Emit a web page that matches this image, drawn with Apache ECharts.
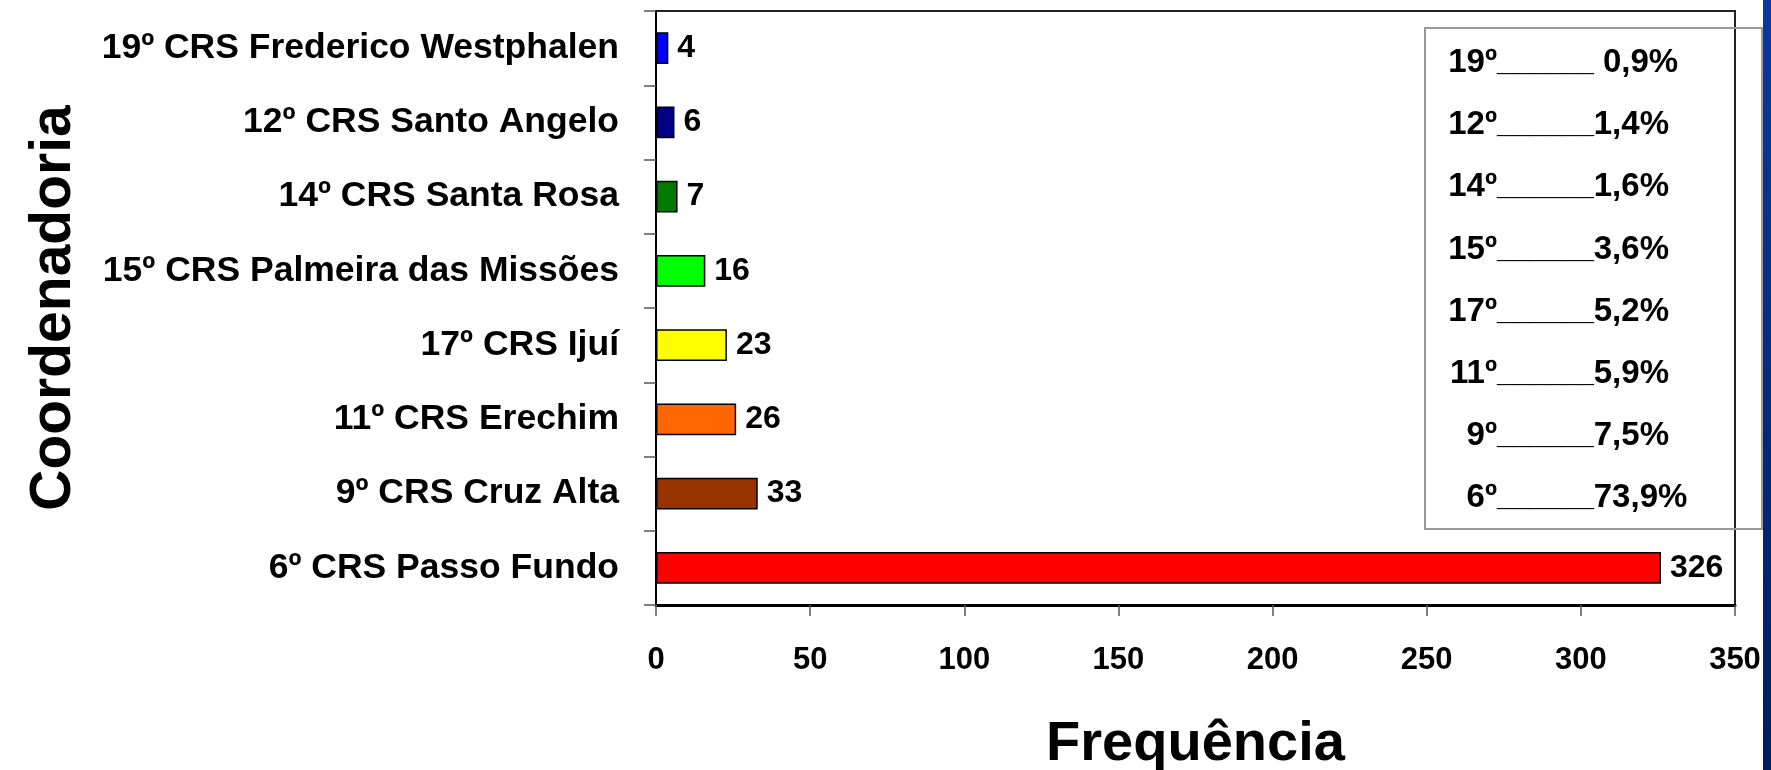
<!DOCTYPE html>
<html>
<head>
<meta charset="utf-8">
<script src="https://cdn.jsdelivr.net/npm/echarts@6/dist/echarts.min.js"></script>
<style>
  html, body { margin: 0; padding: 0; background: #fff; }
  #chart { width: 1771px; height: 770px; }
</style>
</head>
<body>
<div id="chart"></div>
<script>
// categorias (de cima para baixo)
var categorias = [
    '19º CRS Frederico Westphalen',
    '12º CRS Santo Angelo',
    '14º CRS Santa Rosa',
    '15º CRS Palmeira das Missões',
    '17º CRS Ijuí',
    '11º CRS Erechim',
    '9º CRS Cruz Alta',
    '6º CRS Passo Fundo'
];
var frequencias = [4, 6, 7, 16, 23, 26, 33, 326];
var cores = ['#0000ff', '#000080', '#007a00', '#00ff00', '#ffff00', '#ff6600', '#993300', '#ff0000'];
var xTicks = [0, 50, 100, 150, 200, 250, 300, 350];

// caixa de percentuais
var legRank = ['19º', '12º', '14º', '15º', '17º', '11º', '9º', '6º'];
var legPct = [' 0,9%', '1,4%', '1,6%', '3,6%', '5,2%', '5,9%', '7,5%', '73,9%'];

var FONT = '"Liberation Sans", Arial, Helvetica, sans-serif';

var myChart = echarts.init(document.getElementById('chart'));

var barData = frequencias.map(function (v, i) {
    return { value: v, itemStyle: { color: cores[i] } };
});

var graphics = [
    // faixa azul à direita
    {
        type: 'rect', z: 100,
        shape: { x: 1763, y: 0, width: 8, height: 770 },
        style: {
            fill: new echarts.graphic.LinearGradient(0, 0, 0, 1, [
                { offset: 0, color: '#0a3aa0' },
                { offset: 1, color: '#001c5c' }
            ])
        }
    },
    // caixa
    {
        type: 'rect', z: 50,
        shape: { x: 1425, y: 28, width: 337, height: 501 },
        style: { fill: 'transparent', stroke: '#999', lineWidth: 2 }
    }
];

legRank.forEach(function (r, i) {
    var y = 63 + i * 62.2;
    graphics.push({
        type: 'text', z: 60,
        style: {
            x: 1497, y: y, text: r, align: 'right', verticalAlign: 'middle',
            font: 'bold 33px ' + FONT, fill: '#000'
        }
    });
    graphics.push({
        type: 'text', z: 60,
        style: {
            x: 1497, y: y, text: '{u|______}{p|' + legPct[i] + '}',
            align: 'left', verticalAlign: 'middle',
            rich: {
                u: { fontSize: 29, fontWeight: 'bold', fontFamily: FONT, fill: '#000' },
                p: { fontSize: 33, fontWeight: 'bold', fontFamily: FONT, fill: '#000' }
            }
        }
    });
});

var option = {
    animation: false,
    backgroundColor: '#fff',
    grid: {
        left: 656,
        top: 11,
        right: 36,
        bottom: 165,
        show: true,
        borderColor: '#222',
        borderWidth: 2,
        backgroundColor: 'transparent',
        outerBoundsMode: 'none'
    },
    xAxis: {
        type: 'value',
        min: 0,
        max: 350,
        interval: 50,
        name: 'Frequência',
        nameLocation: 'middle',
        nameGap: 112,
        nameTextStyle: { fontSize: 56, fontWeight: 'bold', fontFamily: FONT, color: '#000' },
        axisLine: { show: true, lineStyle: { color: '#000', width: 3 } },
        axisTick: { show: true, length: 11, lineStyle: { color: '#555', width: 1.5 } },
        axisLabel: {
            fontSize: 31, fontWeight: 'bold', fontFamily: FONT, color: '#000', margin: 40,
            formatter: function (v) { return xTicks.indexOf(v) >= 0 ? String(v) : ''; }
        },
        splitLine: { show: false }
    },
    yAxis: {
        type: 'category',
        inverse: true,
        data: categorias,
        name: 'Coordenadoria',
        nameLocation: 'middle',
        nameRotate: 90,
        nameGap: 573,
        nameTextStyle: { fontSize: 57, fontWeight: 'bold', fontFamily: FONT, color: '#000' },
        axisLine: { show: true, lineStyle: { color: '#000', width: 2 } },
        axisTick: { show: true, length: 12, lineStyle: { color: '#555', width: 1.5 } },
        axisLabel: { fontSize: 35.5, fontWeight: 'bold', fontFamily: FONT, color: '#000', margin: 37 },
        splitLine: { show: false }
    },
    series: [
        {
            type: 'bar',
            barWidth: '43%',
            data: barData,
            itemStyle: { borderColor: '#000', borderWidth: 1.5 },
            label: {
                show: true,
                position: 'right',
                distance: 9,
                fontSize: 32,
                fontWeight: 'bold',
                fontFamily: FONT,
                color: '#000'
            }
        }
    ],
    graphic: graphics
};

myChart.setOption(option);
</script>
</body>
</html>
